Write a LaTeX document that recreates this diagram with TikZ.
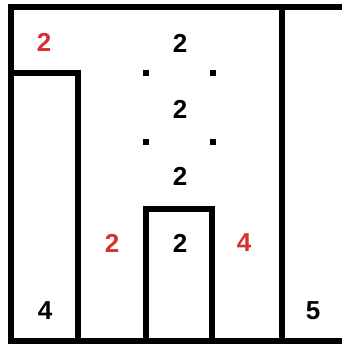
\documentclass[tikz,border=0pt]{standalone}
\usepackage{fontspec}
\setmainfont{Liberation Sans}
\definecolor{numred}{RGB}{214,48,48}
\begin{document}
\begin{tikzpicture}[x=1pt,y=-1pt,
  wall/.style={line width=6pt,line join=miter,line cap=rect},
  num/.style={font=\fontsize{26}{26}\selectfont\bfseries,inner sep=0pt},
  rnum/.style={num,text=numred},
  dot/.style={fill=black,minimum size=6.5pt,inner sep=0pt,rectangle}]
\useasboundingbox (0,0) rectangle (342,345);
\draw[wall] (345,7) -- (11,7) -- (11,341) -- (345,341);
\draw[wall] (11,73) -- (78,73) -- (78,341);
\draw[wall] (146,341) -- (146,209) -- (212,209) -- (212,341);
\draw[wall] (281.5,7) -- (281.5,341);
\node[rnum] (r1) at (44,42) {2};
\node[num] (b1) at (180,43) {2};
\node[num] (b2) at (180,109) {2};
\node[num] (b3) at (180,176) {2};
\node[num] (b4) at (180,243) {2};
\node[rnum] (r2) at (112,243) {2};
\node[rnum] (r3) at (244,243) {4};
\node[num] (b5) at (45,311) {4};
\node[num] (b6) at (313,311) {5};
\node[dot] (d1) at (146,73) {};
\node[dot] (d2) at (213,73) {};
\node[dot] (d3) at (146,142) {};
\node[dot] (d4) at (213,142) {};
\end{tikzpicture}
\end{document}
